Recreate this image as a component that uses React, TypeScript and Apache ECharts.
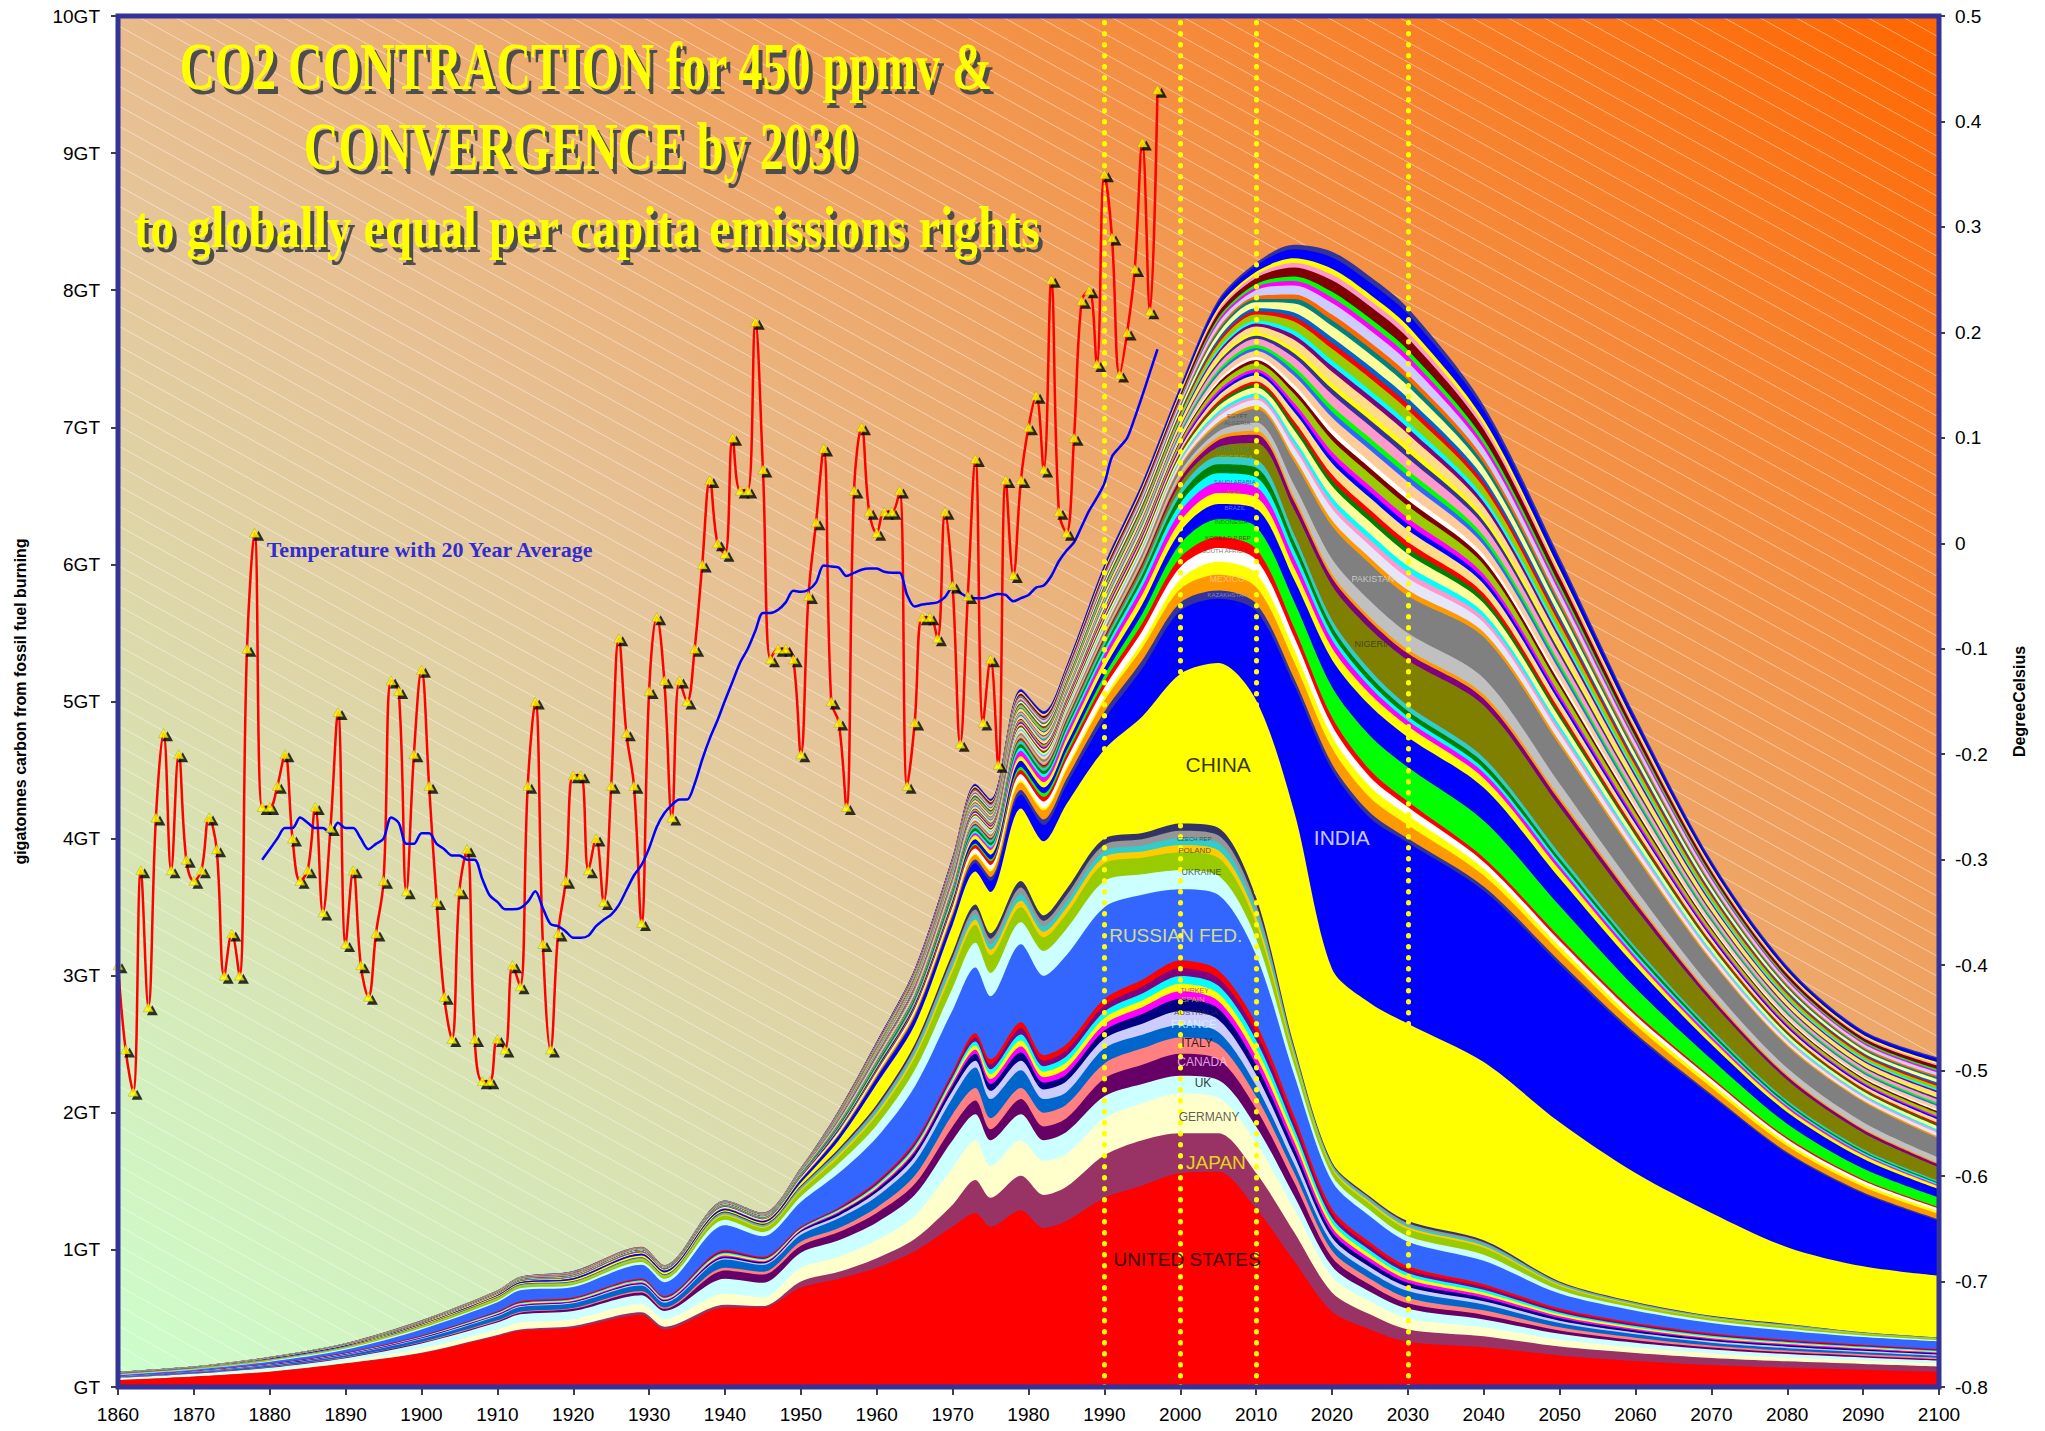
import React, { useEffect, useRef } from 'react';
import * as echarts from 'echarts';

const W = 2045;
const H = 1431;
const GL = 118, GT = 16, GR = 106, GB = 44;

// ---- sample years for the emissions stack (gigatonnes carbon) ----
const YEARS = [1860,1870,1880,1890,1900,1910,1913,1920,1929,1932,1940,1945,1950,1955,1960,1965,1970,1973,1975,1979,1982,1985,1990,1995,2000,2005,2010,2015,2020,2025,2030,2040,2050,2060,2070,2080,2090,2100];

const US = [.05,.075,.11,.17,.245,.37,.41,.43,.525,.42,.58,.58,.725,.79,.87,.99,1.17,1.27,1.17,1.29,1.16,1.21,1.38,1.47,1.56,1.57,1.30,.92,.55,.42,.33,.29,.23,.19,.16,.14,.125,.11];
const JP = [.001,.002,.002,.003,.005,.01,.01,.015,.02,.02,.02,.01,.045,.05,.07,.09,.16,.24,.21,.25,.24,.25,.31,.33,.29,.28,.26,.21,.14,.11,.09,.08,.065,.058,.052,.047,.043,.04];
const DE = [.007,.009,.013,.017,.03,.04,.05,.05,.06,.055,.08,.065,.10,.11,.13,.17,.27,.29,.23,.26,.25,.24,.27,.27,.29,.26,.22,.17,.115,.095,.08,.065,.05,.04,.033,.028,.025,.022];
const UK = [.008,.01,.015,.02,.037,.05,.06,.06,.065,.06,.11,.105,.11,.12,.13,.15,.20,.19,.19,.19,.15,.16,.16,.14,.13,.13,.12,.095,.075,.07,.07,.058,.043,.034,.028,.025,.022,.02];
const CA = [.002,.003,.004,.005,.007,.01,.012,.015,.02,.015,.06,.06,.05,.06,.07,.08,.10,.10,.08,.11,.10,.10,.13,.14,.16,.15,.13,.10,.065,.05,.04,.033,.024,.019,.015,.013,.012,.011];
const IT = [.001,.001,.002,.003,.004,.006,.006,.006,.01,.01,.02,.02,.03,.03,.04,.06,.09,.09,.08,.08,.10,.10,.11,.12,.12,.11,.09,.07,.05,.045,.04,.033,.024,.019,.015,.013,.012,.011];
const FR = [.005,.007,.01,.014,.022,.03,.035,.035,.04,.035,.06,.05,.05,.07,.08,.10,.12,.15,.14,.13,.10,.09,.11,.10,.09,.09,.08,.065,.055,.05,.05,.043,.03,.024,.02,.017,.015,.013];
const AU = [.001,.001,.002,.003,.005,.007,.007,.008,.01,.01,.01,.01,.02,.02,.03,.04,.05,.05,.06,.07,.07,.08,.07,.08,.10,.09,.08,.06,.04,.035,.03,.024,.018,.014,.012,.011,.01,.009];
const ES = [.001,.002,.003,.003,.004,.005,.005,.005,.007,.007,.01,.01,.01,.02,.02,.03,.04,.05,.05,.06,.05,.05,.06,.07,.09,.08,.07,.055,.04,.035,.03,.024,.018,.014,.012,.011,.01,.009];
const AX_THIN = [.0008,.001,.0018,.0024,.0032,.005,.006,.006,.007,.0065,.01,.008,.006,.008,.012,.016,.02,.03,.036,.044,.04,.044,.046,.05,.056,.056,.06,.047,.034,.029,.024,.02,.014,.011,.009,.008,.007,.0064];
const RU = [.008,.011,.015,.022,.045,.065,.08,.075,.10,.10,.18,.15,.18,.25,.32,.40,.45,.48,.46,.57,.58,.65,.67,.62,.52,.55,.50,.30,.20,.19,.18,.17,.11,.09,.075,.065,.055,.055];
const UA = [.002,.003,.005,.008,.01,.012,.015,.015,.02,.025,.04,.03,.04,.07,.09,.12,.16,.18,.17,.16,.18,.19,.19,.15,.14,.14,.12,.07,.045,.045,.04,.045,.025,.02,.017,.015,.012,.01];
const PL = [.002,.003,.005,.007,.01,.013,.013,.013,.015,.015,.03,.03,.04,.05,.07,.09,.12,.13,.13,.11,.10,.11,.13,.12,.13,.13,.11,.06,.045,.045,.05,.05,.03,.018,.016,.015,.012,.01];
const EIT_THIN = [.0008,.001,.0013,.002,.0025,.0035,.004,.004,.005,.0045,.0075,.0075,.01,.015,.02,.025,.035,.0375,.04,.0475,.04,.045,.045,.045,.0525,.055,.0475,.02,.0125,.0138,.015,.0138,.0083,.0063,.005,.005,.003,.0025];
const CN = [.002,.002,.003,.003,.005,.006,.007,.01,.012,.013,.01,.01,.02,.06,.15,.14,.20,.24,.30,.53,.54,.62,.65,.85,1.09,1.20,1.44,1.71,1.41,1.41,1.44,1.30,1.16,.94,.75,.56,.48,.45];
const IN = [.002,.002,.003,.004,.005,.007,.008,.01,.013,.012,.01,.01,.02,.03,.04,.05,.05,.06,.08,.10,.12,.14,.22,.35,.46,.47,.65,.92,1.45,1.35,1.32,1.25,1.15,1.0,.85,.68,.53,.40];
const KZ = [0,0,0,0,0,0,0,0,0,0,.001,.001,.003,.008,.012,.016,.022,.028,.03,.035,.04,.045,.055,.06,.06,.06,.055,.05,.045,.04,.03,.03,.025,.02,.015,.012,.01,.01];
const MX = [.001,.001,.001,.002,.002,.003,.003,.004,.004,.004,.005,.005,.006,.01,.015,.02,.025,.035,.04,.055,.065,.065,.08,.09,.10,.115,.12,.12,.115,.11,.10,.08,.07,.06,.05,.045,.04,.04];
const TH = [0,0,0,0,0,0,0,0,0,0,0,0,.001,.002,.003,.004,.006,.01,.012,.015,.016,.02,.025,.045,.07,.095,.10,.09,.085,.08,.07,.05,.04,.035,.03,.025,.022,.02];
const ZA = [.001,.001,.001,.002,.002,.003,.003,.004,.005,.004,.006,.006,.008,.015,.02,.025,.03,.035,.035,.045,.05,.055,.07,.08,.09,.10,.10,.09,.08,.07,.06,.05,.04,.035,.03,.025,.022,.02];
const KP = [0,0,0,0,0,0,0,0,.001,.001,.001,.001,.002,.005,.01,.015,.02,.025,.027,.03,.033,.036,.045,.055,.07,.08,.08,.07,.06,.05,.04,.03,.025,.02,.015,.012,.01,.01];
const ID = [0,0,0,0,.001,.001,.001,.001,.002,.002,.002,.001,.002,.005,.006,.007,.009,.012,.015,.022,.026,.03,.045,.07,.10,.13,.16,.19,.22,.25,.25,.27,.23,.18,.13,.10,.08,.07];
const BR = [.001,.001,.001,.001,.001,.002,.002,.002,.002,.002,.003,.003,.005,.01,.013,.016,.02,.03,.033,.045,.042,.045,.055,.07,.09,.11,.13,.16,.20,.22,.22,.24,.20,.16,.11,.085,.07,.06];
const IR = [0,0,0,0,0,0,0,0,.001,.001,.002,.002,.003,.006,.008,.012,.02,.03,.035,.033,.04,.045,.055,.07,.075,.08,.085,.085,.085,.085,.08,.07,.06,.045,.035,.028,.024,.02];
const SA = [0,0,0,0,0,0,0,0,0,0,0,0,.002,.003,.004,.006,.009,.015,.016,.04,.035,.04,.045,.06,.07,.075,.075,.07,.06,.05,.04,.04,.03,.025,.02,.015,.012,.01];
const TW = [0,0,0,0,0,0,0,0,0,0,.001,.001,.002,.003,.004,.006,.01,.015,.017,.025,.022,.025,.032,.045,.06,.07,.07,.06,.045,.035,.03,.03,.025,.02,.015,.012,.01,.01];
const VE = [0,0,0,0,0,0,0,.001,.002,.002,.003,.004,.006,.012,.015,.018,.02,.022,.02,.025,.024,.025,.03,.04,.055,.065,.07,.06,.05,.045,.04,.04,.03,.025,.02,.015,.012,.01];
const AR = [.001,.001,.001,.001,.002,.002,.002,.002,.002,.002,.003,.003,.005,.008,.011,.013,.015,.018,.018,.022,.02,.022,.028,.035,.045,.055,.06,.055,.05,.045,.04,.04,.035,.025,.02,.015,.012,.01];
const NG = [0,0,0,0,0,0,0,0,0,0,0,0,0,.001,.001,.002,.003,.005,.006,.01,.012,.013,.02,.03,.045,.07,.12,.18,.25,.30,.33,.38,.34,.28,.20,.15,.12,.10];
const DP = [0,0,0,0,0,0,0,0,0,0,0,0,.001,.002,.003,.004,.005,.007,.008,.01,.011,.012,.015,.02,.035,.05,.06,.06,.055,.055,.05,.05,.045,.04,.03,.025,.022,.02];
const DO = [0,0,0,0,0,0,0,0,0,0,0,0,.001,.002,.003,.004,.005,.006,.007,.009,.01,.011,.013,.016,.02,.025,.03,.03,.03,.03,.03,.03,.025,.02,.015,.012,.01,.01];
const DZ = [0,0,0,0,0,0,0,0,0,0,0,0,.001,.002,.002,.003,.005,.007,.008,.012,.014,.016,.02,.025,.03,.04,.06,.09,.11,.12,.12,.12,.10,.08,.06,.05,.045,.04];
const PK = [0,0,0,0,0,0,0,0,0,0,.001,.001,.002,.004,.005,.006,.007,.009,.01,.012,.013,.014,.018,.025,.035,.05,.10,.17,.24,.27,.27,.30,.28,.24,.19,.16,.15,.14];
const STRIPE_WIDE = [.0003,.00025,.0004,.0005,.0008,.001,.0012,.0018,.0012,.001,.00135,.00135,.00165,.00385,.00565,.00765,.00915,.0113,.01095,.01355,.0149,.01465,.01995,.02185,.0246,.0379,.0444,.06585,.08335,.0873,.0875,.0704,.0571,.0425,.03065,.02435,.02165,.0246];
const STRIPE_THIN = [.00015,.00015,.0002,.00025,.0004,.0005,.0006,.0007,.0007,.0005,.0007,.0007,.00085,.00195,.00285,.00385,.0046,.00565,.0055,.0068,.00745,.00735,.01,.01095,.0123,.01895,.0222,.03295,.0417,.04365,.04375,.0352,.02855,.02125,.01535,.0122,.01085,.0123];
const STRIPE_COLORS = ['#ff9900','#e6e6fa','#ff99cc','#00ffff','#ffff99','#008000','#ff0000','#ffdd88','#0000ff','#ff00ff','#99cc00','#800000','#ffffff','#ffcc99','#3366ff','#00ff00','#ff99cc','#333399','#ffff00','#ffdd88','#800080','#00ffff','#99cc00','#ff0000','#0066cc','#ffff99','#008080','#ff6600','#ccccff','#ff00ff','#00ff00','#800000','#ff99cc','#ffff00','#0000ff','#333399'];

// bottom -> top
const BANDS: [string, number[], string][] = [
  ['United States', US, '#ff0000'],
  ['Japan', JP, '#993366'],
  ['Germany', DE, '#ffffcc'],
  ['UK', UK, '#ccffff'],
  ['Canada', CA, '#660066'],
  ['Italy', IT, '#ff8080'],
  ['France', FR, '#0066cc'],
  ['Australia', AU, '#ccccff'],
  ['Spain', ES, '#000080'],
  ['Turkey', AX_THIN, '#ff00ff'],
  ['Annex I other a', AX_THIN, '#ffff00'],
  ['Annex I other b', AX_THIN, '#00ffff'],
  ['Annex I other c', AX_THIN, '#800080'],
  ['Annex I other d', AX_THIN, '#ff0000'],
  ['Russian Fed.', RU, '#3366ff'],
  ['Ukraine', UA, '#ccffff'],
  ['Poland', PL, '#99cc00'],
  ['Czech Rep.', EIT_THIN, '#ffcc00'],
  ['EIT other b', EIT_THIN, '#33cccc'],
  ['EIT other c', EIT_THIN, '#969696'],
  ['EIT other d', EIT_THIN, '#333366'],
  ['China', CN, '#ffff00'],
  ['India', IN, '#0000ff'],
  ['Kazakhstan', KZ, '#333399'],
  ['Mexico', MX, '#ff9900'],
  ['Developing a', TH, '#ffff00'],
  ['South Africa', ZA, '#ffffff'],
  ['Korea D.P.Rep', KP, '#ff0000'],
  ['Indonesia', ID, '#00ff00'],
  ['Brazil', BR, '#0000ff'],
  ['Iran', IR, '#ffff00'],
  ['Saudi Arabia', SA, '#ff00ff'],
  ['Taiwan', TW, '#00ffff'],
  ['Venezuela', VE, '#008000'],
  ['Argentina', AR, '#33cccc'],
  ['Nigeria', NG, '#808000'],
  ['Developing b', DP, '#800080'],
  ['Developing c', DO, '#ff9900'],
  ['Algeria', DZ, '#c0c0c0'],
  ['Pakistan', PK, '#808080'],
  ...STRIPE_COLORS.map((c, i): [string, number[], string] => ['stripe ' + (i + 1), i % 3 === 1 ? STRIPE_WIDE : STRIPE_THIN, c]),
];

// ---- temperature (degrees Celsius, right axis) ----
const TEMP_START = 1860;
const TEMP = [
  -0.40,-0.48,-0.52,-0.31,-0.44,-0.26,-0.18,-0.31,-0.20,-0.30,
  -0.32,-0.31,-0.26,-0.29,-0.41,-0.37,-0.41,-0.10,0.01,-0.25,
  -0.25,-0.23,-0.20,-0.28,-0.32,-0.31,-0.25,-0.35,-0.27,-0.16,
  -0.38,-0.31,-0.40,-0.43,-0.37,-0.32,-0.13,-0.14,-0.33,-0.20,
  -0.12,-0.23,-0.34,-0.43,-0.47,-0.33,-0.29,-0.47,-0.51,-0.51,
  -0.47,-0.48,-0.40,-0.42,-0.23,-0.15,-0.38,-0.48,-0.37,-0.32,
  -0.22,-0.22,-0.31,-0.28,-0.34,-0.23,-0.09,-0.18,-0.23,-0.36,
  -0.14,-0.07,-0.13,-0.26,-0.13,-0.15,-0.10,-0.02,0.06,0.00,
  -0.01,0.10,0.05,0.05,0.21,0.07,-0.11,-0.10,-0.10,-0.11,
  -0.20,-0.05,0.02,0.09,-0.15,-0.17,-0.25,0.05,0.11,0.03,
  0.01,0.03,0.03,0.05,-0.23,-0.17,-0.07,-0.07,-0.09,0.03,
  -0.04,-0.19,-0.05,0.08,-0.17,-0.11,-0.21,0.06,-0.03,0.06,
  0.11,0.14,0.07,0.25,0.03,0.01,0.10,0.23,0.24,0.17,
  0.35,0.29,0.16,0.20,0.26,0.38,0.22,0.43,
];
const AVG_START = 1879;
const AVG = [
  -0.30,-0.29,-0.28,-0.27,-0.27,-0.26,-0.265,-0.27,-0.27,-0.275,-0.265,
  -0.27,-0.27,-0.28,-0.29,-0.285,-0.28,-0.26,-0.265,-0.285,-0.285,
  -0.275,-0.275,-0.285,-0.29,-0.296,-0.296,-0.30,-0.30,-0.318,-0.334,
  -0.34,-0.347,-0.347,-0.346,-0.34,-0.33,-0.346,-0.361,-0.363,-0.368,
  -0.374,-0.374,-0.372,-0.363,-0.357,-0.352,-0.343,-0.329,-0.315,-0.305,
  -0.289,-0.269,-0.256,-0.248,-0.243,-0.243,-0.228,-0.205,-0.185,-0.168,
  -0.149,-0.131,-0.113,-0.10,-0.083,-0.066,-0.066,-0.063,-0.056,-0.045,
  -0.046,-0.044,-0.037,-0.021,-0.022,-0.023,-0.031,-0.028,-0.025,-0.024,
  -0.024,-0.027,-0.028,-0.028,-0.049,-0.060,-0.058,-0.057,-0.056,-0.051,
  -0.042,-0.047,-0.051,-0.052,-0.052,-0.050,-0.048,-0.049,-0.055,-0.052,
  -0.049,-0.042,-0.040,-0.031,-0.017,-0.007,0.001,0.016,0.031,0.043,
  0.057,0.082,0.091,0.100,0.119,0.140,0.162,0.184,
];

const DOTTED_YEARS = [1990, 2000, 2010, 2030];

// ---- country labels placed in data coordinates ----
const LABEL_TEXT = ['UNITED STATES','JAPAN','GERMANY','UK','CANADA','ITALY','FRANCE','AUSTRALIA','SPAIN','TURKEY','RUSSIAN FED.','UKRAINE','POLAND','CZECH REP.','CHINA','INDIA','KAZAKHSTAN','MEXICO','SOUTH AFRICA','KOREA D.P.REP','INDONESIA','BRAZIL','IRAN','SAUDI ARABIA','TAIWAN','VENEZUELA','ARGENTINA','ALGERIA','EGYPT','NIGERIA','PAKISTAN'];
const LABEL_YEAR = [2000.9,2004.7,2003.8,2003.0,2002.9,2002.2,2001.8,2002.1,2001.7,2001.9,1999.4,2002.8,2001.9,2001.9,2005.0,2021.3,2006.2,2006.2,2005.8,2006.3,2006.7,2007.2,2007.0,2007.2,2006.6,2007.2,2007.0,2007.5,2007.5,2025.4,2025.4];
const LABEL_GT = [0.93,1.64,1.97,2.22,2.37,2.51,2.65,2.73,2.83,2.89,3.29,3.76,3.91,4.00,4.54,4.01,5.78,5.89,6.10,6.19,6.31,6.41,6.53,6.60,6.69,6.78,6.84,7.03,7.08,5.42,5.89];
const LABEL_SIZE = [19,19,12,12,12,12,11,8,8,7,19,9,8,6,21,21,6,9,6,6,6,6,6,6,6,6,6,6,6,9,9];
const LABEL_COLOR = ['#000000','#ffff00','#333333','#000000','#ffccff','#000000','#ccffff','#333333','#cccc33','#cc00cc','#ffff66','#333333','#333333','#333333','#000000','#ffffff','#9999cc','#ffcc99','#555555','#990000','#006600','#6699ff','#999900','#990099','#006666','#66cc66','#009999','#555555','#444444','#333333','#dddddd'];

const TITLE_LINES = ['CO2 CONTRACTION for 450 ppmv &', 'CONVERGENCE by 2030', 'to globally equal per capita emissions rights'];

function buildOption(): any {
  const cum: number[][] = [];
  let run = YEARS.map(() => 0);
  for (const b of BANDS) {
    run = run.map((v, i) => v + b[1][i]);
    cum.push(run);
  }
  const areaSeries = BANDS.map((b, k) => ({
    type: 'line',
    name: b[0],
    xAxisIndex: 0,
    yAxisIndex: 0,
    data: YEARS.map((y, i) => [y, Math.round(cum[k][i] * 10000) / 10000]),
    symbol: 'none',
    showSymbol: false,
    smooth: 0.3,
    silent: true,
    z: 2,
    lineStyle: { width: 0, opacity: 0 },
    areaStyle: { color: b[2], opacity: 1 },
  })).reverse();

  const tempData = TEMP.map((t, i) => [TEMP_START + i, t]);
  const avgData = AVG.map((t, i) => [AVG_START + i, t]);

  const plotW = W - GL - GR;
  const plotH = H - GT - GB;

  const tile = "<svg xmlns='http://www.w3.org/2000/svg' width='36' height='20'><line x1='-3' y1='-1.667' x2='39' y2='21.667' stroke='#ffffff' stroke-opacity='0.45' stroke-width='1'/></svg>";
  const tileUrl = 'data:image/svg+xml;charset=utf-8,' + encodeURIComponent(tile);

  const titlePos = [
    { x: 586, y: 66, size: 68, sx: 0.707 },
    { x: 580, y: 146, size: 68, sx: 0.71 },
    { x: 587, y: 227, size: 60, sx: 0.81 },
  ];
  const titleEls: any[] = [];
  TITLE_LINES.forEach((t, i) => {
    const p = titlePos[i];
    [['#4d4d4d', 4, 5], ['#ffff00', 0, 0]].forEach(([c, dx, dy]: any) => {
      titleEls.push({
        type: 'text',
        x: p.x + dx,
        y: p.y + dy,
        scaleX: p.sx,
        z: 100,
        silent: true,
        style: {
          text: t,
          fill: c,
          fontSize: p.size,
          fontWeight: 'bold',
          fontFamily: '"Liberation Serif", "DejaVu Serif", serif',
          textAlign: 'center',
          textVerticalAlign: 'middle',
          align: 'center',
          verticalAlign: 'middle',
        },
      });
    });
  });

  const axisFont = '"Liberation Sans", Arial, sans-serif';

  return {
    animation: false,
    backgroundColor: '#ffffff',
    textStyle: { fontFamily: axisFont },
    grid: { left: GL, top: GT, right: GR, bottom: GB, containLabel: false },
    xAxis: {
      type: 'value',
      min: 1860,
      max: 2100,
      interval: 10,
      axisLine: { show: false },
      axisTick: { show: true, length: 8, lineStyle: { color: '#000', width: 1.5 } },
      axisLabel: { formatter: (v: number) => String(v), fontSize: 19, color: '#000', fontFamily: axisFont, margin: 18 },
      splitLine: { show: false },
    },
    yAxis: [
      {
        type: 'value',
        min: 0,
        max: 10,
        interval: 1,
        position: 'left',
        name: 'gigatonnes carbon from fossil fuel burning',
        nameLocation: 'middle',
        nameGap: 90,
        nameRotate: 90,
        nameTextStyle: { fontSize: 16, fontWeight: 'bold', color: '#000', fontFamily: axisFont },
        axisLine: { show: false },
        axisTick: { show: true, length: 7, lineStyle: { color: '#000', width: 1.5 } },
        axisLabel: { formatter: (v: number) => (v === 0 ? 'GT' : v + 'GT'), fontSize: 19, color: '#000', fontFamily: axisFont, margin: 18 },
        splitLine: { show: false },
      },
      {
        type: 'value',
        min: -0.8,
        max: 0.5,
        interval: 0.1,
        position: 'right',
        name: 'DegreeCelsius',
        nameLocation: 'middle',
        nameGap: 72,
        nameRotate: 90,
        nameTextStyle: { fontSize: 16, fontWeight: 'bold', color: '#000', fontFamily: axisFont },
        axisLine: { show: false },
        axisTick: { show: true, length: 6, lineStyle: { color: '#000', width: 1.5 } },
        axisLabel: {
          formatter: (v: number) => {
            const r = Math.round(v * 10) / 10;
            return r === 0 ? '0' : String(r);
          },
          fontSize: 19,
          color: '#000',
          fontFamily: axisFont,
          margin: 16,
        },
        splitLine: { show: false },
      },
    ],
    graphic: [
      {
        type: 'rect',
        z: -10,
        silent: true,
        shape: { x: GL, y: GT, width: plotW, height: plotH },
        style: {
          fill: new echarts.graphic.LinearGradient(0, 1, 1, 0, [
            { offset: 0, color: '#ccffcc' },
            { offset: 0.45, color: '#e6c397' },
            { offset: 1, color: '#ff6600' },
          ]),
        },
      },
      {
        type: 'rect',
        z: -9,
        silent: true,
        shape: { x: GL, y: GT, width: plotW, height: plotH },
        style: { fill: { image: tileUrl, repeat: 'repeat', imageWidth: 36, imageHeight: 20 } },
      },
      {
        type: 'rect',
        z: 90,
        silent: true,
        shape: { x: GL, y: GT, width: plotW, height: plotH },
        style: { fill: 'none', stroke: '#333399', lineWidth: 5 },
      },
      ...titleEls,
    ],
    series: [
      ...areaSeries,
      {
        type: 'scatter',
        name: 'dotted years',
        xAxisIndex: 0,
        yAxisIndex: 0,
        data: [[1860, 0]],
        symbolSize: 1,
        itemStyle: { color: 'rgba(0,0,0,0)' },
        silent: true,
        z: 4,
        markLine: {
          silent: true,
          symbol: ['none', 'none'],
          label: { show: false },
          lineStyle: { color: '#ffff00', width: 5, type: [0.5, 10.5], cap: 'round', opacity: 1 },
          data: DOTTED_YEARS.map((y) => ({ xAxis: y })),
        },
      },
      {
        type: 'line',
        name: 'Temperature',
        xAxisIndex: 0,
        yAxisIndex: 1,
        data: tempData,
        symbol: 'none',
        smooth: 0.4,
        silent: true,
        z: 5,
        lineStyle: { color: '#ff0000', width: 2.5 },
      },
      {
        type: 'line',
        name: '20 Year Average',
        xAxisIndex: 0,
        yAxisIndex: 1,
        data: avgData,
        symbol: 'none',
        smooth: 0.3,
        silent: true,
        z: 5,
        lineStyle: { color: '#0000ff', width: 2.5 },
      },
      {
        type: 'scatter',
        name: 'marker shadow',
        xAxisIndex: 0,
        yAxisIndex: 1,
        data: tempData,
        symbol: 'triangle',
        symbolSize: [11, 10],
        symbolOffset: [4, 3],
        itemStyle: { color: '#000000' },
        silent: true,
        z: 6,
      },
      {
        type: 'scatter',
        name: 'marker',
        xAxisIndex: 0,
        yAxisIndex: 1,
        data: tempData,
        symbol: 'triangle',
        symbolSize: [10, 9],
        itemStyle: { color: '#ffff00', borderColor: '#9a9a00', borderWidth: 0.5 },
        silent: true,
        z: 7,
      },
      {
        type: 'scatter',
        name: 'temperature caption',
        xAxisIndex: 0,
        yAxisIndex: 1,
        data: [[1879.6, -0.006]],
        symbolSize: 1,
        itemStyle: { color: 'rgba(0,0,0,0)' },
        silent: true,
        z: 8,
        label: {
          show: true,
          position: 'inside',
          align: 'left',
          verticalAlign: 'middle',
          formatter: 'Temperature with 20 Year Average',
          color: '#0000dd',
          fontSize: 22,
          fontWeight: 'bold',
          fontFamily: '"Liberation Serif", serif',
        },
      },
      {
        type: 'scatter',
        name: 'country labels',
        xAxisIndex: 0,
        yAxisIndex: 0,
        symbolSize: 1,
        itemStyle: { color: 'rgba(0,0,0,0)' },
        silent: true,
        z: 9,
        data: LABEL_TEXT.map((t, i) => ({
          value: [LABEL_YEAR[i], LABEL_GT[i]],
          label: {
            show: true,
            position: 'inside',
            formatter: t,
            color: LABEL_COLOR[i],
            fontSize: LABEL_SIZE[i],
            fontFamily: axisFont,
          },
        })),
      },
    ],
  };
}

export default function App() {
  const ref = useRef<HTMLDivElement>(null);
  useEffect(() => {
    if (!ref.current) return;
    const chart = echarts.init(ref.current, undefined, { renderer: 'svg' });
    chart.setOption(buildOption());
    return () => {
      chart.dispose();
    };
  }, []);
  return <div ref={ref} style={{ position: 'absolute', left: 0, top: 0, width: W, height: H }} />;
}
